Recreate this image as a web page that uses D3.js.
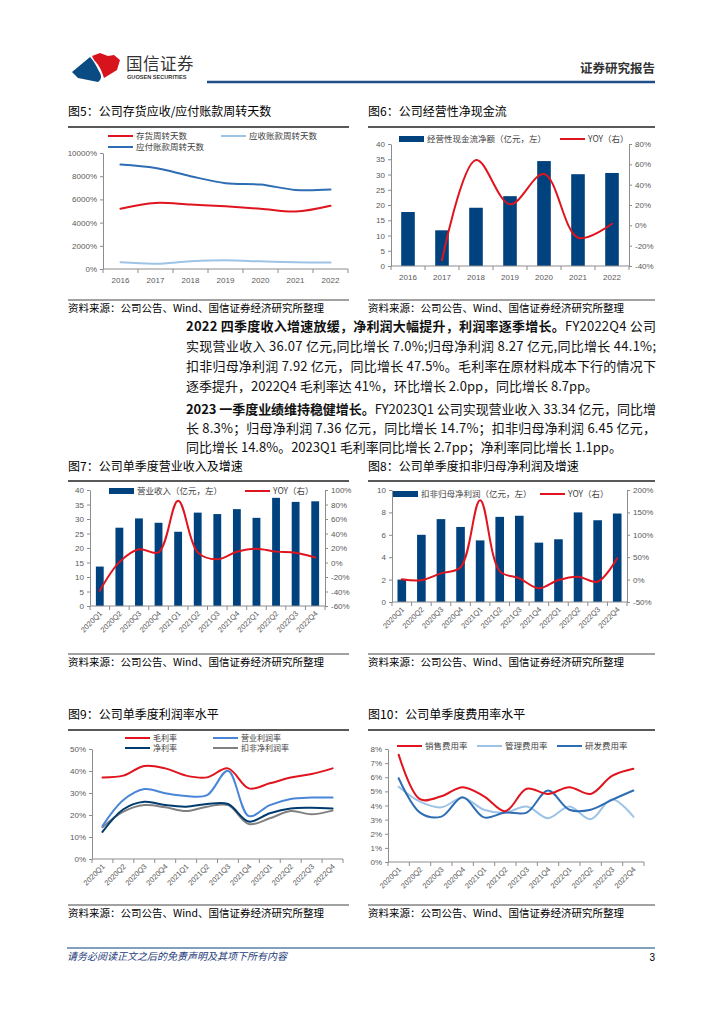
<!DOCTYPE html>
<html><head><meta charset="utf-8">
<script src="https://cdn.jsdelivr.net/npm/d3@7"></script>
<style>body{margin:0;background:#fff}svg{display:block}</style>
</head><body><script>
// ---------------- DATA ----------------
const years = ["2016","2017","2018","2019","2020","2021","2022"];
const inventoryDays  = [5200,5700,5550,5400,5200,4950,5450];
const receivableDays = [580,460,660,750,660,580,550];
const payableDays    = [9000,8700,8000,7400,7280,6820,6850];
const ticks5 = [0,2000,4000,6000,8000,10000];

const cashFlow    = [17.7,11.7,19.1,22.9,34.4,30.1,30.5];
const cashFlowYoy = [null,-34.4,64.3,20.7,50.5,-12.2,1.6];
const ticks6L = [0,5,10,15,20,25,30,35,40];
const ticks6R = [-40,-20,0,20,40,60,80];

const quarters = ["2020Q1","2020Q2","2020Q3","2020Q4","2021Q1","2021Q2","2021Q3","2021Q4","2022Q1","2022Q2","2022Q3","2022Q4"];
const revenue    = [13.6,27.0,30.2,28.7,25.6,32.2,31.7,33.4,30.4,37.3,35.9,36.1];
const revenueYoy = [-38.9,0.5,18.2,14.0,85.3,14.0,4.4,14.9,19.0,15.0,13.5,7.0];
const ticks7L = [0,5,10,15,20,25,30,35,40];
const ticks7R = [-60,-40,-20,0,20,40,60,80,100];

const deductedProfit = [2.0,6.0,7.4,6.7,5.5,7.6,7.7,5.3,5.6,8.0,7.3,7.9];
const deductedYoy    = [0.7,-1.5,14,27.5,177,19,3,-19.5,-1,6.5,-4.7,47.5];
const ticks8L = [0,2,4,6,8,10];
const ticks8R = [-50,0,50,100,150,200];

const grossMargin       = [37.1,37.9,42.3,41.2,37.9,37.1,41.2,32.1,34.4,37.0,38.6,41.2];
const operatingMargin   = [15.0,26.8,31.8,29.9,28.6,29.0,40.1,19.5,24.5,27.3,27.9,27.9];
const netMargin         = [12.3,22.6,26.0,24.5,23.8,25.0,25.0,17.0,20.8,23.0,23.3,23.0];
const deductedNetMargin = [14.4,21.5,24.5,23.5,21.8,23.8,24.5,15.9,18.5,21.8,20.3,22.0];
const ticks9 = [0,10,20,30,40,50];

const sellingRate = [7.6,4.45,4.65,5.3,4.65,3.6,5.18,4.82,5.3,4.82,6.1,6.6];
const adminRate   = [5.33,4.27,3.87,4.55,3.7,3.5,3.93,3.1,3.93,3.03,4.45,3.21];
const rdRate      = [5.93,3.5,3.21,4.58,3.16,3.5,3.5,5.06,3.7,3.7,4.4,5.06];
const ticks10 = [0,1,2,3,4,5,6,7,8];

// ---------------- SETUP ----------------
const CJK = '"Noto Sans CJK SC","Noto Sans",sans-serif';
const LAT = '"Liberation Sans",Arial,sans-serif';
const AX = '#8c8c8c', TX = '#595959', LG = '#404040';
const NAVY = '#00427E', RED = '#E0141E';
const svg = d3.select("body").append("svg").attr("width",724).attr("height",1024)
  .style("font-family",CJK);

function styleAxis(g){
  g.select(".domain").attr("stroke",AX);
  g.selectAll(".tick line").attr("stroke",AX);
  g.selectAll(".tick text").attr("fill",TX).attr("font-size",8).attr("font-family",LAT);
}
function leftAxis(scale,x,ticks,fmt){
  svg.append("g").attr("transform",`translate(${x},0)`)
    .call(d3.axisLeft(scale).tickValues(ticks).tickFormat(fmt).tickSize(3).tickSizeOuter(0).tickPadding(3))
    .call(styleAxis);
}
function rightAxis(scale,x,ticks,fmt){
  svg.append("g").attr("transform",`translate(${x},0)`)
    .call(d3.axisRight(scale).tickValues(ticks).tickFormat(fmt).tickSize(3).tickSizeOuter(0).tickPadding(3))
    .call(styleAxis);
}
function bandBottom(x,y0,rotate){
  const g = svg.append("g").attr("transform",`translate(0,${y0})`)
    .call(d3.axisBottom(x).tickSize(0).tickPadding(8)).call(styleAxis);
  g.select(".domain").remove();
  const [a,b] = x.range();
  g.append("line").attr("x1",a).attr("x2",b).attr("stroke",AX);
  g.selectAll("line.bt").data(x.domain().map(d=>x(d)).concat([b])).join("line")
    .attr("class","bt").attr("x1",d=>d).attr("x2",d=>d).attr("y1",0).attr("y2",4).attr("stroke",AX);
  if(rotate){
    g.selectAll(".tick text").attr("x",0).attr("y",0).attr("dy",0)
      .attr("text-anchor","end").attr("font-size",7.5)
      .attr("transform","translate(3,8) rotate(-45)");
  }
}
function line(x,y,vals,color,w){
  const gen = d3.line().defined(d=>d.v!=null).x(d=>x(d.k)+x.bandwidth()/2).y(d=>y(d.v))
    .curve(d3.curveCatmullRom.alpha(0.5));
  svg.append("path").datum(x.domain().map((k,i)=>({k,v:vals[i]})))
    .attr("d",gen).attr("fill","none").attr("stroke",color).attr("stroke-width",w||2)
    .attr("stroke-linejoin","round").attr("stroke-linecap","round");
}
function bars(x,y,vals,color,frac){
  const bw = x.bandwidth()*frac;
  svg.append("g").selectAll("rect").data(x.domain().map((k,i)=>({k,v:vals[i]}))).join("rect")
    .attr("x",d=>x(d.k)+(x.bandwidth()-bw)/2).attr("width",bw)
    .attr("y",d=>y(d.v)).attr("height",d=>y(0)-y(d.v)).attr("fill",color);
}
function legLine(x1,y,color,label,w,fs){
  svg.append("line").attr("x1",x1).attr("x2",x1+25).attr("y1",y).attr("y2",y)
    .attr("stroke",color).attr("stroke-width",w||2);
  svg.append("text").attr("x",x1+28).attr("y",y+3).attr("font-size",fs||8.5).attr("fill",LG).text(label);
}
function legBar(x1,y,color,label){
  svg.append("rect").attr("x",x1).attr("y",y-3).attr("width",25).attr("height",6).attr("fill",color);
  svg.append("text").attr("x",x1+28).attr("y",y+3).attr("font-size",8.5).attr("fill",LG).text(label);
}
function frame(x0,x1,titleY,ruleY,title,srcRuleY,src){
  svg.append("text").attr("x",x0).attr("y",titleY).attr("font-size",12).attr("fill","#000").text(title);
  svg.append("line").attr("x1",x0).attr("x2",x1).attr("y1",ruleY).attr("y2",ruleY).attr("stroke","#222").attr("stroke-width",1.3);
  svg.append("line").attr("x1",x0).attr("x2",x1).attr("y1",srcRuleY).attr("y2",srcRuleY).attr("stroke","#444").attr("stroke-width",1);
  if(src) svg.append("text").attr("x",x0).attr("y",srcRuleY+12).attr("font-size",10.5).attr("fill","#000").text(src);
}
const SRC = "资料来源：公司公告、Wind、国信证券经济研究所整理";
const pct = d=>d+"%";

// ---------------- HEADER ----------------
svg.append("path").attr("d","M72,72 L90,57 C95,62 97,68 100,73 C102,77 101,80 98,82 L88,80 L78,78 Z").attr("fill","#0A4B84");
svg.append("path").attr("d","M92,56 L100,53 L108,56 L114,55 L120,60 L117,70 L104,78 C102,72 100,66 94,60 Z").attr("fill","#D7141E");
svg.append("text").attr("x",126).attr("y",70).attr("font-size",16.5).attr("fill","#333").attr("letter-spacing",0.5).text("国信证券");
svg.append("text").attr("x",127).attr("y",79).attr("font-size",5.6).attr("font-family",LAT).attr("font-weight",700).attr("fill","#333").text("GUOSEN SECURITIES");
svg.append("text").attr("x",655).attr("y",73).attr("text-anchor","end").attr("font-size",12.5).attr("font-weight",700).attr("fill","#333").text("证券研究报告");
svg.append("line").attr("x1",207).attr("x2",655).attr("y1",82).attr("y2",82).attr("stroke","#1F4E89").attr("stroke-width",2.5);

// ---------------- CHART 5 ----------------
frame(68,349,116,127,"图5：公司存货应收/应付账款周转天数",300,SRC);
{
  const x = d3.scaleBand().domain(years).range([103,348]);
  const y = d3.scaleLinear().domain([0,10000]).range([269,153]);
  leftAxis(y,103,ticks5,pct);
  bandBottom(x,269,false);
  line(x,y,receivableDays,'#9DC3E6',2);
  line(x,y,payableDays,'#2E6DB4',2);
  line(x,y,inventoryDays,RED,2);
  legLine(108,136,RED,"存货周转天数");
  legLine(221,136,'#9DC3E6',"应收账款周转天数");
  legLine(108,147,'#2E6DB4',"应付账款周转天数");
}

// ---------------- CHART 6 ----------------
frame(368,655,116,127,"图6：公司经营性净现金流",300,SRC);
{
  const x = d3.scaleBand().domain(years).range([391,629]);
  const y = d3.scaleLinear().domain([0,40]).range([266,144]);
  const y2 = d3.scaleLinear().domain([-40,80]).range([266,144]);
  bars(x,y,cashFlow,NAVY,0.4);
  leftAxis(y,391,ticks6L,d=>d);
  rightAxis(y2,629,ticks6R,pct);
  bandBottom(x,266,false);
  line(x,y2,cashFlowYoy,RED,2);
  legBar(399,139,NAVY,"经营性现金流净额（亿元，左）");
  legLine(560,139,RED,"YOY（右）");
}

// ---------------- TEXT ----------------
const paraLines = [
  {y:331, j:true,  parts:[["2022 四季度收入增速放缓，净利润大幅提升，利润率逐季增长。",1],["FY2022Q4 公司",0]]},
  {y:351, j:true,  parts:[["实现营业收入 36.07 亿元,同比增长 7.0%;归母净利润 8.27 亿元,同比增长 44.1%;",0]]},
  {y:371, j:true,  parts:[["扣非归母净利润 7.92 亿元，同比增长 47.5%。毛利率在原材料成本下行的情况下",0]]},
  {y:391, j:false, parts:[["逐季提升，2022Q4 毛利率达 41%，环比增长 2.0pp，同比增长 8.7pp。",0]]},
  {y:414, j:true,  parts:[["2023 一季度业绩维持稳健增长。",1],["FY2023Q1 公司实现营业收入 33.34 亿元，同比增",0]]},
  {y:433, j:true,  parts:[["长 8.3%；归母净利润 7.36 亿元，同比增长 14.7%；扣非归母净利润 6.45 亿元，",0]]},
  {y:452, j:false, parts:[["同比增长 14.8%。2023Q1 毛利率同比增长 2.7pp；净利率同比增长 1.1pp。",0]]}
];
paraLines.forEach(l=>{
  const t = svg.append("text").attr("x",186).attr("y",l.y).attr("font-size",13).attr("fill","#111");
  if(l.j) t.attr("textLength",470).attr("lengthAdjust","spacing");
  l.parts.forEach(p=>t.append("tspan").attr("font-weight",p[1]?700:400).text(p[0]));
});

// ---------------- CHART 7 ----------------
frame(68,349,471,481,"图7：公司单季度营业收入及增速",654,SRC);
{
  const x = d3.scaleBand().domain(quarters).range([90,325]);
  const y = d3.scaleLinear().domain([0,40]).range([606,490]);
  const y2 = d3.scaleLinear().domain([-60,100]).range([606,490]);
  bars(x,y,revenue,NAVY,0.4);
  leftAxis(y,90,ticks7L,d=>d);
  rightAxis(y2,325,ticks7R,pct);
  bandBottom(x,606,true);
  line(x,y2,revenueYoy,RED,2);
  legBar(109,491,NAVY,"营业收入（亿元，左）");
  legLine(245,491,RED,"YOY（右）");
}

// ---------------- CHART 8 ----------------
frame(368,655,471,481,"图8：公司单季度扣非归母净利润及增速",654,SRC);
{
  const x = d3.scaleBand().domain(quarters).range([392,627]);
  const y = d3.scaleLinear().domain([0,10]).range([602,490]);
  const y2 = d3.scaleLinear().domain([-50,200]).range([602,490]);
  bars(x,y,deductedProfit,NAVY,0.44);
  leftAxis(y,392,ticks8L,d=>d);
  rightAxis(y2,627,ticks8R,pct);
  bandBottom(x,602,true);
  line(x,y2,deductedYoy,RED,2);
  legBar(393,494,NAVY,"扣非归母净利润（亿元，左）");
  legLine(540,494,RED,"YOY（右）");
}

// ---------------- CHART 9 ----------------
frame(68,349,719,730,"图9：公司单季度利润率水平",905,SRC);
{
  const x = d3.scaleBand().domain(quarters).range([92,343]);
  const y = d3.scaleLinear().domain([0,50]).range([859,749]);
  leftAxis(y,92,ticks9,pct);
  bandBottom(x,859,true);
  line(x,y,deductedNetMargin,'#808080',2);
  line(x,y,netMargin,'#003B6F',2);
  line(x,y,operatingMargin,'#4A86D8',2);
  line(x,y,grossMargin,RED,2);
  legLine(125,738,RED,"毛利率",2,8);
  legLine(213,738,'#4A86D8',"营业利润率",2,8);
  legLine(125,748,'#003B6F',"净利率",2,8);
  legLine(213,748,'#808080',"扣非净利润率",2,8);
}

// ---------------- CHART 10 ----------------
frame(368,655,719,730,"图10：公司单季度费用率水平",905,SRC);
{
  const x = d3.scaleBand().domain(quarters).range([388,644]);
  const y = d3.scaleLinear().domain([0,8]).range([862,749]);
  leftAxis(y,388,ticks10,pct);
  bandBottom(x,862,true);
  line(x,y,adminRate,'#9DC3E6',2);
  line(x,y,rdRate,'#2E6DB4',2);
  line(x,y,sellingRate,RED,2);
  legLine(397,746,RED,"销售费用率");
  legLine(477,746,'#9DC3E6',"管理费用率");
  legLine(557,746,'#2E6DB4',"研发费用率");
}

// ---------------- FOOTER ----------------
svg.append("line").attr("x1",67).attr("x2",655).attr("y1",948).attr("y2",948).attr("stroke","#5A7FA8").attr("stroke-width",1.5);
svg.append("text").attr("x",67).attr("y",960).attr("font-size",10).attr("font-style","italic").attr("fill","#1F3D7A").text("请务必阅读正文之后的免责声明及其项下所有内容");
svg.append("text").attr("x",655).attr("y",961).attr("text-anchor","end").attr("font-size",10).attr("font-family",LAT).attr("fill","#000").text("3");
</script></body></html>
